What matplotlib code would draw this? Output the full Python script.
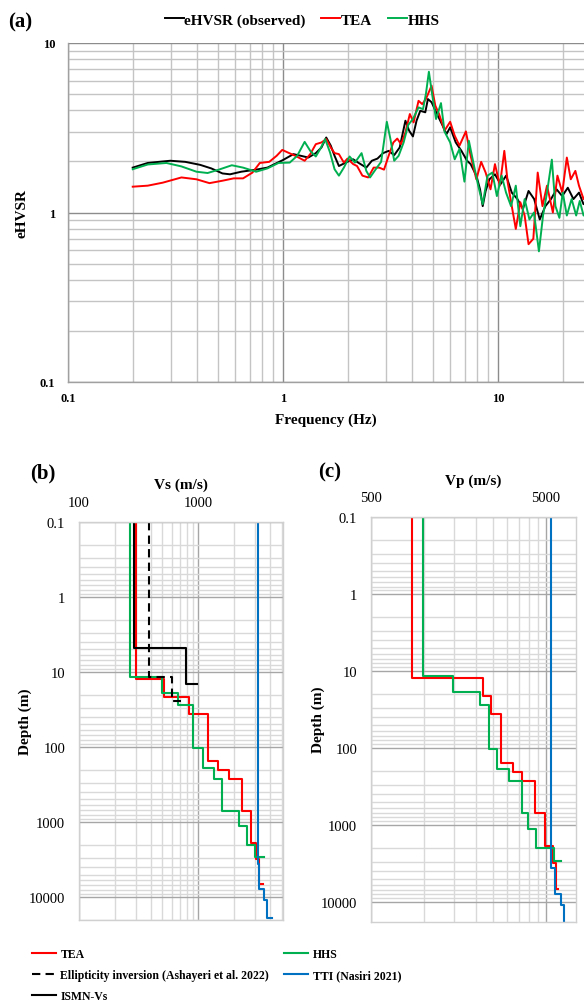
import matplotlib
matplotlib.use('Agg')
import matplotlib.pyplot as plt
from matplotlib.ticker import FixedLocator, FuncFormatter, NullFormatter

plt.rcParams['font.family'] = ['Liberation Serif', 'DejaVu Serif']

# ---------------- Panel (a) data ----------------
freq_obs = [0.2, 0.235, 0.299, 0.351, 0.412, 0.464, 0.523, 0.567, 0.639, 0.750,
            0.846, 1.00, 1.118, 1.211, 1.312, 1.421, 1.510, 1.589, 1.668, 1.737,
            1.820, 1.958, 2.12, 2.25, 2.44, 2.59, 2.75, 2.92, 3.10, 3.29,
            3.49, 3.71, 3.86, 4.02, 4.18, 4.35, 4.59, 4.72, 4.91, 5.21,
            5.53, 5.76, 5.99, 6.36, 6.76, 7.18, 7.46, 7.93, 8.25, 8.49,
            8.76, 9.12, 9.68, 10.28, 10.91, 11.59, 12.31, 13.06, 13.87, 14.73,
            15.64, 16.61, 17.64, 18.73, 19.89, 21.12, 22.43, 23.81, 24.98, 27.0]
hvsr_obs = [1.84, 1.96, 2.02, 1.99, 1.91, 1.82, 1.70, 1.68, 1.74, 1.79,
            1.84, 2.04, 2.21, 2.16, 2.11, 2.24, 2.42, 2.77, 2.48, 2.16,
            1.88, 1.97, 2.06, 1.96, 1.84, 2.02, 2.08, 2.24, 2.31, 2.18,
            2.42, 3.48, 3.04, 2.81, 3.48, 3.98, 3.90, 4.67, 4.47, 3.80,
            3.25, 2.90, 3.18, 2.59, 2.31, 2.02, 1.93, 1.65, 1.37, 1.09,
            1.34, 1.57, 1.68, 1.47, 1.65, 1.31, 1.20, 1.05, 1.34, 1.20,
            0.91, 1.09, 1.20, 1.37, 1.25, 1.40, 1.20, 1.31, 1.12, 1.15]

freq_tea = [0.2, 0.235, 0.276, 0.337, 0.396, 0.455, 0.523, 0.590, 0.652, 0.721,
            0.780, 0.863, 0.934, 0.992, 1.053, 1.141, 1.261, 1.339, 1.421, 1.510,
            1.589, 1.668, 1.737, 1.820, 1.919, 1.995, 2.12, 2.21, 2.34, 2.49,
            2.64, 2.80, 2.95, 3.10, 3.26, 3.40, 3.54, 3.71, 3.89, 4.05,
            4.27, 4.44, 4.62, 4.91, 5.11, 5.32, 5.64, 5.99, 6.29, 6.62,
            7.09, 7.46, 7.93, 8.35, 8.76, 9.23, 9.68, 10.2, 10.7, 11.1,
            11.59, 12.1, 12.7, 13.3, 13.87, 14.6, 15.3, 16.1, 16.9, 18.0,
            18.9, 19.9, 20.9, 21.8, 22.9, 23.8, 25.0, 26.5]
hvsr_tea = [1.42, 1.44, 1.50, 1.61, 1.57, 1.49, 1.54, 1.59, 1.59, 1.72,
            1.96, 1.99, 2.16, 2.34, 2.26, 2.16, 2.02, 2.21, 2.53, 2.59,
            2.71, 2.42, 2.24, 2.21, 1.97, 2.08, 1.93, 1.88, 1.65, 1.61,
            1.84, 1.84, 1.79, 2.16, 2.59, 2.73, 2.53, 2.97, 3.81, 3.40,
            4.56, 4.36, 4.67, 5.60, 4.27, 3.81, 3.04, 3.43, 2.84, 2.48,
            3.01, 2.16, 1.57, 1.99, 1.72, 1.37, 1.93, 1.44, 2.31, 1.50,
            1.09, 0.80, 1.15, 0.96, 0.65, 0.70, 1.72, 1.09, 1.44, 1.00,
            1.65, 1.31, 2.11, 1.57, 1.76, 1.44, 1.20, 1.35]

freq_hhs = [0.2, 0.235, 0.287, 0.337, 0.396, 0.446, 0.503, 0.578, 0.652, 0.750,
            0.846, 0.953, 1.075, 1.164, 1.261, 1.339, 1.421, 1.49, 1.571, 1.655,
            1.737, 1.820, 1.919, 2.04, 2.16, 2.32, 2.44, 2.54, 2.70, 2.86,
            3.04, 3.16, 3.29, 3.45, 3.64, 3.82, 4.02, 4.27, 4.48, 4.62,
            4.77, 4.95, 5.15, 5.43, 5.64, 5.99, 6.29, 6.62, 6.98, 7.32,
            7.68, 8.09, 8.49, 8.94, 9.41, 9.88, 10.4, 10.9, 11.5, 12.1,
            12.7, 13.3, 14.0, 14.7, 15.5, 16.2, 16.9, 17.8, 18.5, 19.3,
            20.0, 20.9, 22.0, 23.1, 24.0, 25.0, 26.5]
hvsr_hhs = [1.80, 1.92, 1.96, 1.87, 1.74, 1.71, 1.79, 1.90, 1.84, 1.74,
            1.82, 1.96, 1.97, 2.16, 2.61, 2.31, 2.14, 2.37, 2.71, 2.26,
            1.80, 1.65, 1.84, 2.14, 1.97, 2.24, 1.76, 1.61, 1.80, 1.99,
            3.43, 2.71, 2.02, 2.16, 2.59, 3.28, 3.56, 4.17, 4.07, 5.00,
            6.77, 4.89, 3.56, 4.42, 3.00, 2.59, 2.06, 2.37, 1.52, 2.65,
            1.97, 1.44, 1.12, 1.65, 1.72, 1.25, 1.65, 1.31, 1.09, 1.44,
            0.83, 1.20, 0.91, 1.00, 0.59, 0.96, 1.31, 2.05, 1.09, 0.93,
            1.31, 0.96, 1.20, 0.96, 1.17, 0.96, 1.05]

# ---------------- Panel (b)/(c) data (layer velocities and interface depths) ----------------
depth_tea = [12.3, 21.4, 35.8, 155, 204, 270, 712, 1885, 3120, 6730]
vs_tea = [300, 520, 841, 1200, 1472, 1820, 2307, 2750, 3040, 3245, 3500]
vp_tea = [858, 2173, 2415, 2755, 3226, 3665, 4328, 4935, 5500, 5670, 5880]

depth_hhs = [11.5, 18.8, 27.8, 103, 189, 268, 710, 1135, 2000, 2925]
vs_hhs = [267, 493, 679, 897, 1102, 1352, 1570, 2209, 2573, 2985, 3550]
vp_hhs = [995, 1480, 2100, 2351, 2612, 3073, 3665, 3964, 4386, 5560, 6070]

depth_ell = [11.7, 24.0]
vs_ell = [388, 603, 720]

depth_ismn = [4.74, 14.3]
vs_ismn = [291, 783, 982]

depth_tti = [3600, 7900, 11000, 19000]
vs_tti = [3150, 3230, 3550, 3770, 4150]
vp_tti = [5350, 5630, 6070, 6340, 7100]

RED = '#FF0000'
GREEN = '#00B050'
BLUE = '#0070C0'

W, H = 584, 1003
fig = plt.figure(figsize=(W / 100, H / 100), dpi=100)


def fx(px):
    return px / W


def fy(py):
    return 1 - py / H


def steps(v, d, top=0.1):
    x = [v[0]]
    y = [top]
    for i in range(len(d)):
        x += [v[i], v[i + 1]]
        y += [d[i], d[i]]
    return x, y


def decade_minors(lo, hi):
    return [k * 10 ** e for e in range(lo, hi) for k in range(2, 10)]


fmt = FuncFormatter(lambda v, p: f'{v:g}')

# ---------------- Panel (a) ----------------
axA = fig.add_axes([fx(68), fy(383), 645 / W, 339 / H])
axA.set_xscale('log')
axA.set_yscale('log')
axA.set_xlim(0.1, 100)
axA.set_ylim(0.1, 10)
axA.xaxis.set_major_locator(FixedLocator([0.1, 1, 10]))
axA.xaxis.set_minor_locator(FixedLocator(decade_minors(-1, 2)))
axA.yaxis.set_major_locator(FixedLocator([0.1, 1, 10]))
axA.yaxis.set_minor_locator(FixedLocator(decade_minors(-1, 1)))
axA.xaxis.set_major_formatter(fmt)
axA.yaxis.set_major_formatter(fmt)
axA.xaxis.set_minor_formatter(NullFormatter())
axA.yaxis.set_minor_formatter(NullFormatter())
axA.set_axisbelow(True)
axA.grid(which='minor', color='#C4C4C4', lw=1.0)
axA.grid(which='major', color='#8C8C8C', lw=1.0)
axA.tick_params(which='both', length=0)
axA.tick_params(axis='x', pad=7, labelsize=9)
axA.tick_params(axis='y', pad=9, labelsize=9)
for lab in axA.get_xticklabels() + axA.get_yticklabels():
    lab.set_fontweight('bold')
for s in ['top', 'right']:
    axA.spines[s].set_visible(False)
for s in ['left', 'bottom']:
    axA.spines[s].set_color('#A0A0A0')
    axA.spines[s].set_linewidth(1.0)

lo, = axA.plot(freq_obs, hvsr_obs, color='black', lw=1.4, label='eHVSR (observed)')
lt, = axA.plot(freq_tea, hvsr_tea, color=RED, lw=1.4, label='TEA')
lh, = axA.plot(freq_hhs, hvsr_hhs, color=GREEN, lw=1.4, label='HHS')

fig.legend(handles=[lo, lt, lh], loc='center', bbox_to_anchor=(fx(302), fy(21)),
           ncol=3, frameon=False, prop={'weight': 'bold', 'size': 11},
           handlelength=1.25, handletextpad=0.05, columnspacing=1.0, borderpad=0)

fig.text(fx(8), fy(22), '(a)', fontsize=15, fontweight='bold', ha='left', va='center')
fig.text(fx(22), fy(213), 'eHVSR', fontsize=11, fontweight='bold', rotation=90,
         ha='center', va='center')
fig.text(fx(326), fy(420), 'Frequency (Hz)', fontsize=11, fontweight='bold',
         ha='center', va='center')


# ---------------- Panels (b) and (c) ----------------
def setup_profile(ax, xlim, ylim, xmaj, xmin):
    ax.set_xscale('log')
    ax.set_yscale('log')
    ax.set_xlim(*xlim)
    ax.set_ylim(*ylim)
    ax.xaxis.tick_top()
    ax.xaxis.set_major_locator(FixedLocator(xmaj))
    ax.xaxis.set_minor_locator(FixedLocator(xmin))
    ax.yaxis.set_major_locator(FixedLocator([0.1, 1, 10, 100, 1000, 10000]))
    ax.yaxis.set_minor_locator(FixedLocator(decade_minors(-1, 5)))
    ax.xaxis.set_major_formatter(fmt)
    ax.yaxis.set_major_formatter(fmt)
    ax.xaxis.set_minor_formatter(NullFormatter())
    ax.yaxis.set_minor_formatter(NullFormatter())
    ax.set_axisbelow(True)
    ax.grid(which='minor', color='#D9D9D9', lw=1.0)
    ax.grid(which='major', color='#A6A6A6', lw=1.0)
    ax.tick_params(which='both', length=0)
    ax.tick_params(axis='x', pad=9, labelsize=10.5)
    ax.tick_params(axis='y', pad=10, labelsize=10.5)
    for s in ax.spines.values():
        s.set_color('#D0D0D0')
        s.set_linewidth(1.0)


axB = fig.add_axes([fx(79), fy(921), 204 / W, 398 / H])
setup_profile(axB, (100, 5130), (20200, 0.1), [100, 1000],
              [k * 100 for k in range(2, 10)] + [2000, 3000, 4000, 5000])

x, y = steps(vs_tea, depth_tea)
hb_tea, = axB.plot(x, y, color=RED, lw=1.5, label='TEA')
x, y = steps(vs_hhs, depth_hhs)
hb_hhs, = axB.plot(x, y, color=GREEN, lw=1.5, label='HHS')
x, y = steps(vs_ell, depth_ell)
hb_ell, = axB.plot(x, y, color='black', lw=1.5, ls=(0, (4, 2.5)),
                   label='Ellipticity inversion (Ashayeri et al. 2022)')
x, y = steps(vs_tti, depth_tti)
hb_tti, = axB.plot(x, y, color=BLUE, lw=1.5, label='TTI (Nasiri 2021)')
x, y = steps(vs_ismn, depth_ismn)
hb_ismn, = axB.plot(x, y, color='black', lw=1.5, label='ISMN-Vs')

fig.text(fx(30), fy(473), '(b)', fontsize=15, fontweight='bold', ha='left', va='center')
fig.text(fx(181), fy(485), 'Vs (m/s)', fontsize=11, fontweight='bold', ha='center', va='center')
fig.text(fx(25), fy(722), 'Depth (m)', fontsize=11, fontweight='bold', rotation=90,
         ha='center', va='center')

axC = fig.add_axes([fx(371), fy(923), 205 / W, 405 / H])
setup_profile(axC, (500, 7420), (18300, 0.1), [500, 5000],
              [k * 500 for k in range(2, 10)])

x, y = steps(vp_tea, depth_tea)
axC.plot(x, y, color=RED, lw=1.5)
x, y = steps(vp_hhs, depth_hhs)
axC.plot(x, y, color=GREEN, lw=1.5)
x, y = steps(vp_tti, depth_tti)
axC.plot(x, y, color=BLUE, lw=1.5)

fig.text(fx(318), fy(472), '(c)', fontsize=15, fontweight='bold', ha='left', va='center')
fig.text(fx(473), fy(481), 'Vp (m/s)', fontsize=11, fontweight='bold', ha='center', va='center')
fig.text(fx(318), fy(720), 'Depth (m)', fontsize=11, fontweight='bold', rotation=90,
         ha='center', va='center')

# ---------------- Bottom legend ----------------
fig.legend(handles=[hb_tea, hb_ell, hb_ismn, hb_hhs, hb_tti], loc='upper left',
           bbox_to_anchor=(fx(32), fy(949)), ncol=2, frameon=False,
           prop={'weight': 'bold', 'size': 8.5}, handlelength=2.0,
           handletextpad=0.4, labelspacing=0.75, columnspacing=1.3, borderpad=0,
           borderaxespad=0)

fig.savefig('out.png', dpi=100)
